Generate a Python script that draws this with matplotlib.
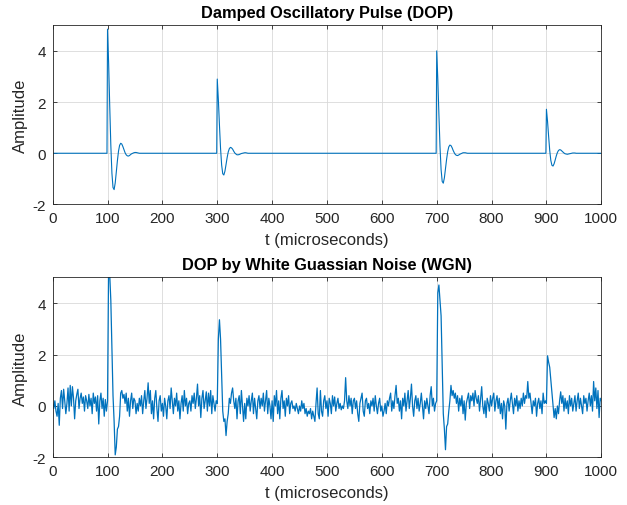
import numpy as np
import matplotlib
matplotlib.use("Agg")
import matplotlib.pyplot as plt

# ========== data ==========
pulse_onsets = [100, 300, 700, 900]   # microseconds
pulse_step = 2                        # spacing of the listed pulse samples

pulse_100 = [4.85, 3.52, 1.85, 0.32, -0.78, -1.34, -1.42, -1.16, -0.73, -0.29,
             0.08, 0.31, 0.39, 0.36, 0.26, 0.14, 0.02, -0.06, -0.10, -0.11,
             -0.09, -0.05, -0.02, 0.0, 0.02, 0.03, 0.03, 0.02, 0.01, 0.0]
pulse_300 = [2.90, 2.10, 1.10, 0.19, -0.46, -0.80, -0.85, -0.70, -0.44, -0.17,
             0.05, 0.18, 0.23, 0.21, 0.16, 0.08, 0.01, -0.03, -0.06, -0.06,
             -0.05, -0.03, -0.01, 0.0, 0.01, 0.02, 0.02, 0.01, 0.0, 0.0]
pulse_700 = [4.00, 2.90, 1.52, 0.26, -0.64, -1.10, -1.17, -0.96, -0.60, -0.24,
             0.06, 0.25, 0.32, 0.30, 0.22, 0.11, 0.02, -0.05, -0.08, -0.09,
             -0.07, -0.04, -0.02, 0.0, 0.02, 0.02, 0.02, 0.01, 0.0, 0.0]
pulse_900 = [1.72, 1.25, 0.66, 0.11, -0.28, -0.47, -0.50, -0.41, -0.26, -0.10,
             0.03, 0.11, 0.14, 0.13, 0.09, 0.05, 0.01, -0.02, -0.03, -0.04,
             -0.03, -0.02, -0.01, 0.0, 0.01, 0.01, 0.01, 0.0, 0.0, 0.0]
pulses = [pulse_100, pulse_300, pulse_700, pulse_900]

# noisy signal, one value every 2 microseconds from 0 to 1000
noisy_step = 2
noisy = [
    0.1, -0.1, 0.2, -0.2, -0.4, 0.1, -0.75, 0.3, 0.6, -0.1, 0.65, 0.2, -0.3, 0.1, 0.7, -0.2, 0.8, 0.0, 0.75, 0.3, -0.5, 0.2, 0.45, 0.65, -0.1,
    0.3, 0.5, 0.1, 0.35, -0.2, 0.4, 0.2, -0.1, 0.45, 0.0, 0.3, -0.3, 0.5, 0.1, 0.35, -0.2, 0.4, -0.7, 0.2, 0.5, -0.1, 0.3, -0.4, 0.25, -0.2,
    0.2, 5.6, 5.1, 4.1, 2.3, 0.4, -0.6, -1.9, -1.6, -0.9, -0.8, -0.4, 0.5, 0.6, 0.3, 0.45, 0.1, 0.5, -0.2, 0.3, -0.4, 0.2, 0.5, -0.1, 0.3,
    0.2, -0.3, 0.1, -0.2, 0.3, 0.0, 0.4, -0.3, 0.2, 0.6, -0.1, 0.3, 0.9, 0.1, 0.6, -0.3, 0.2, -0.5, 0.3, 0.6, -0.1, -0.6, 0.2, 0.4, -0.2,
    0.1, -0.4, 0.3, 0.0, -0.5, 0.2, 0.4, -0.1, 0.7, 0.2, -0.3, 0.3, 0.0, 0.5, -0.2, 0.2, -0.5, 0.1, 0.4, -0.2, 0.6, 0.0, 0.3, -0.3, 0.1,
    0.2, -0.2, 0.4, 0.1, 0.5, -0.1, 0.3, 0.85, 0.0, 0.4, -0.45, 0.3, 0.6, -0.1, 0.2, 0.55, -0.2, 0.5, 0.0, 0.6, -0.3, 0.4, 0.1, -0.2, 0.2,
    0.1, 2.6, 3.35, 2.6, 1.2, -0.2, -0.6, -0.5, -1.15, -0.6, -0.3, 0.3, 0.1, 0.5, 0.7, 0.2, -0.1, 0.3, -0.5, 0.2, 0.4, -0.3, 0.6, 0.0, -0.6,
    0.1, -0.5, 0.3, 0.0, 0.4, -0.2, 0.2, 0.5, -0.3, 0.3, -0.1, -0.5, 0.2, 0.4, -0.1, 0.3, 0.0, 0.5, -0.2, 0.2, 0.6, -0.3, 0.3, 0.0, -0.5,
    0.2, -0.6, 0.4, 0.0, 0.6, -0.3, 0.2, -0.5, 0.3, 0.6, -0.1, 0.2, -0.4, 0.3, 0.0, 0.4, -0.3, 0.1, 0.2, -0.1, 0.0, -0.2, 0.1, -0.1, -0.3,
    0.0, -0.2, 0.2, -0.1, 0.1, -0.3, -0.1, -0.4, -0.2, -0.3, -0.1, -0.5, -0.2, -0.4, -0.6, 0.1, 0.7, -0.3, -0.5, 0.6, -0.2, -0.4, 0.2, 0.4, -0.1,
    0.2, -0.4, 0.3, 0.1, -0.3, 0.4, 0.0, 0.35, -0.2, 0.1, 0.3, -0.1, 0.1, -0.15, 0.0, -0.1, 0.2, 1.1, 0.2, -0.1, 0.4, 0.0, 0.3, -0.3, 0.2,
    0.3, -0.1, 0.2, -0.3, -0.6, 0.1, 0.3, 0.5, -0.2, -0.4, 0.2, 0.3, -0.1, 0.1, -0.3, 0.2, 0.0, 0.3, -0.2, 0.4, 0.0, -0.3, 0.1, 0.3, -0.2,
    0.0, -0.4, -0.2, 0.1, -0.3, 0.2, 0.0, 0.3, 0.5, -0.2, 0.2, -0.1, 0.4, 0.8, 0.1, 0.3, -0.2, 0.2, -0.5, 0.3, 0.0, 0.5, -0.2, 0.2, 0.6,
    -0.1, 0.3, 0.85, 0.0, -0.4, 0.2, 0.4, -0.1, 0.3, -0.2, 0.1, 0.5, 0.0, -0.5, 0.2, -0.1, 0.3, 0.0, -0.3, 0.4, 0.75, 0.0, 0.3, -0.2, 0.1,
    0.2, 4.4, 4.7, 4.1, 3.5, 1.6, -0.3, -0.9, -1.7, -0.8, -0.7, -0.2, 0.2, 0.8, 0.4, 0.6, 0.3, 0.5, 0.1, 0.4, -0.2, 0.3, 0.0, 0.4, -0.3,
    0.2, -0.55, 0.1, 0.3, 0.5, -0.1, 0.4, 0.2, 0.5, 0.0, 0.6, 0.3, 0.1, 0.4, -0.2, 0.3, 0.75, 0.0, -0.3, 0.2, -0.45, 0.3, 0.1, -0.2, 0.4,
    0.0, 0.3, 0.5, -0.2, 0.2, 0.4, -0.1, 0.3, -0.3, 0.1, -0.5, 0.2, 0.0, -0.9, 0.1, 0.3, -0.2, 0.2, 0.5, 0.1, -0.3, 0.3, 0.0, 0.4, -0.2,
    0.2, -0.1, 0.3, 0.0, 0.5, 0.1, 0.4, 0.3, 0.95, 0.3, 0.5, 0.1, -0.3, 0.2, 0.0, 0.3, -0.4, 0.1, 0.3, -0.1, 0.2, -0.3, 0.5, 0.1, 0.2,
    0.1, 1.95, 1.7, 1.5, 1.0, 0.5, 0.0, -0.45, -0.1, -0.5, 0.0, -0.3, 0.2, 0.55, 0.1, 0.4, -0.2, 0.3, -0.1, 0.2, -0.3, 0.4, 0.0, 0.3, -0.2,
    0.1, 0.4, -0.2, 0.2, 0.5, -0.1, 0.3, 0.0, -0.3, 0.4, 0.1, 0.3, -0.2, 0.2, 0.5, 0.0, 0.4, -0.2, 0.95, 0.2, 0.7, -0.1, 0.6, -0.45, 0.3,
    0.2,
]

x_ticks = [0, 100, 200, 300, 400, 500, 600, 700, 800, 900, 1000]
y_ticks = [-2, 0, 2, 4]

# ========== build the clean signal from the pulse samples ==========
clean_t = [0]
clean_y = [0.0]
for onset, vals in zip(pulse_onsets, pulses):
    clean_t.append(onset - 1)
    clean_y.append(0.0)
    clean_t += [onset + pulse_step * i for i in range(len(vals))]
    clean_y += vals
clean_t.append(1000)
clean_y.append(0.0)

noisy_t = np.arange(len(noisy)) * noisy_step

# ========== figure ==========
plt.rcParams["font.family"] = ["Liberation Sans", "DejaVu Sans"]
plt.rcParams["axes.unicode_minus"] = False
line_color = "#0072BD"
axis_color = "#262626"

fig = plt.figure(figsize=(6.27, 5.06), dpi=100)
ax1 = fig.add_axes([0.084, 0.594, 0.875, 0.354])
ax2 = fig.add_axes([0.084, 0.094, 0.875, 0.356])


def matlab_style(ax, title):
    ax.set_xlim(0, 1000)
    ax.set_ylim(-2, 5)
    ax.set_xticks(x_ticks)
    ax.set_yticks(y_ticks)
    ax.grid(True, color="#d9d9d9", linewidth=0.6)
    ax.set_axisbelow(True)
    ax.tick_params(direction="in", top=True, right=True, length=3,
                   width=0.6, colors=axis_color, labelsize=11, pad=5)
    for sp in ax.spines.values():
        sp.set_color(axis_color)
        sp.set_linewidth(0.6)
    ax.set_xlabel("t (microseconds)", fontsize=12, color=axis_color, labelpad=5)
    ax.set_ylabel("Amplitude", fontsize=12, color=axis_color, labelpad=3)
    ax.set_title(title, fontsize=11.8, fontweight="bold", color="black", pad=6)


ax1.plot(clean_t, clean_y, color=line_color, lw=0.8)
matlab_style(ax1, "Damped Oscillatory Pulse (DOP)")

ax2.plot(noisy_t, noisy, color=line_color, lw=0.9)
matlab_style(ax2, "DOP by White Guassian Noise (WGN)")

fig.savefig("out.png", dpi=100)
